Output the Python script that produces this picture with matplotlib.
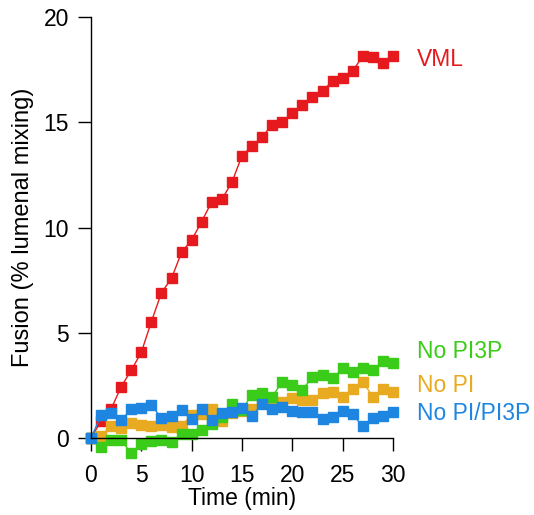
import matplotlib.pyplot as plt
import numpy as np

plt.rcParams['font.family'] = ['Liberation Sans', 'DejaVu Sans']

time_min = np.arange(31)

vml = [0, 0.8, 1.38, 2.44, 3.22, 4.07, 5.53, 6.9, 7.59, 8.82, 9.41,
       10.28, 11.23, 11.34, 12.15, 13.41, 13.87, 14.31, 14.87, 15.0, 15.43,
       15.81, 16.21, 16.48, 16.96, 17.12, 17.43, 18.15, 18.09, 17.8, 18.16]
no_pi3p = [0, -0.41, -0.08, -0.09, -0.73, -0.3, -0.12, -0.09, -0.2, 0.17, 0.2,
           0.4, 0.65, 1.0, 1.6, 1.35, 2.05, 2.12, 1.96, 2.67, 2.52,
           2.28, 2.91, 2.99, 2.83, 3.31, 3.15, 3.31, 3.23, 3.65, 3.55]
no_pi = [0, 0.1, 0.59, 0.46, 0.72, 0.6, 0.58, 0.62, 0.54, 0.57, 1.1,
         1.15, 1.36, 0.8, 1.2, 1.3, 1.4, 1.68, 1.72, 1.73, 1.92,
         1.8, 1.79, 2.12, 2.2, 1.96, 2.31, 2.68, 1.95, 2.31, 2.2]
no_pi_pi3p = [0, 1.07, 1.2, 0.84, 1.37, 1.43, 1.58, 0.94, 1.05, 1.35, 0.88,
              1.36, 0.86, 1.17, 1.25, 1.41, 1.05, 1.62, 1.36, 1.46, 1.3,
              1.22, 1.25, 0.9, 1.0, 1.3, 1.12, 0.55, 0.93, 1.03, 1.22]

series = [
    ("VML", vml, '#E61A1E', 18.0),
    ("No PI", no_pi, '#E8AA20', 2.5),
    ("No PI3P", no_pi3p, '#3ACC18', 4.1),
    ("No PI/PI3P", no_pi_pi3p, '#1E86E0', 1.15),
]

fig = plt.figure(figsize=(5.34, 5.15), dpi=100)
ax = fig.add_axes([0.1704, 0.1495, 0.5655, 0.8175])

for name, vals, color, label_y in series:
    ax.plot(time_min, vals, color=color, lw=1.0, marker='s', ms=7.3,
            mec=color, mfc=color, clip_on=False)
    ax.text(32.4, label_y, name, color=color, fontsize=16.5,
            ha='left', va='center')

ax.set_xlim(0, 30)
ax.set_ylim(0, 20)
ax.set_xticks([0, 5, 10, 15, 20, 25, 30])
ax.set_yticks([0, 5, 10, 15, 20])
ax.spines['top'].set_visible(False)
ax.spines['right'].set_visible(False)
for s in ('left', 'bottom'):
    ax.spines[s].set_linewidth(1.0)
ax.tick_params(direction='out', length=9.4, width=1.0, labelsize=16.5)
ax.tick_params(axis='x', pad=9)
ax.tick_params(axis='y', pad=6.5)
ax.set_xlabel("Time (min)", fontsize=16.5, labelpad=0)
ax.set_ylabel("Fusion (% lumenal mixing)", fontsize=17, labelpad=6.5)

fig.savefig("out.png", dpi=100)
